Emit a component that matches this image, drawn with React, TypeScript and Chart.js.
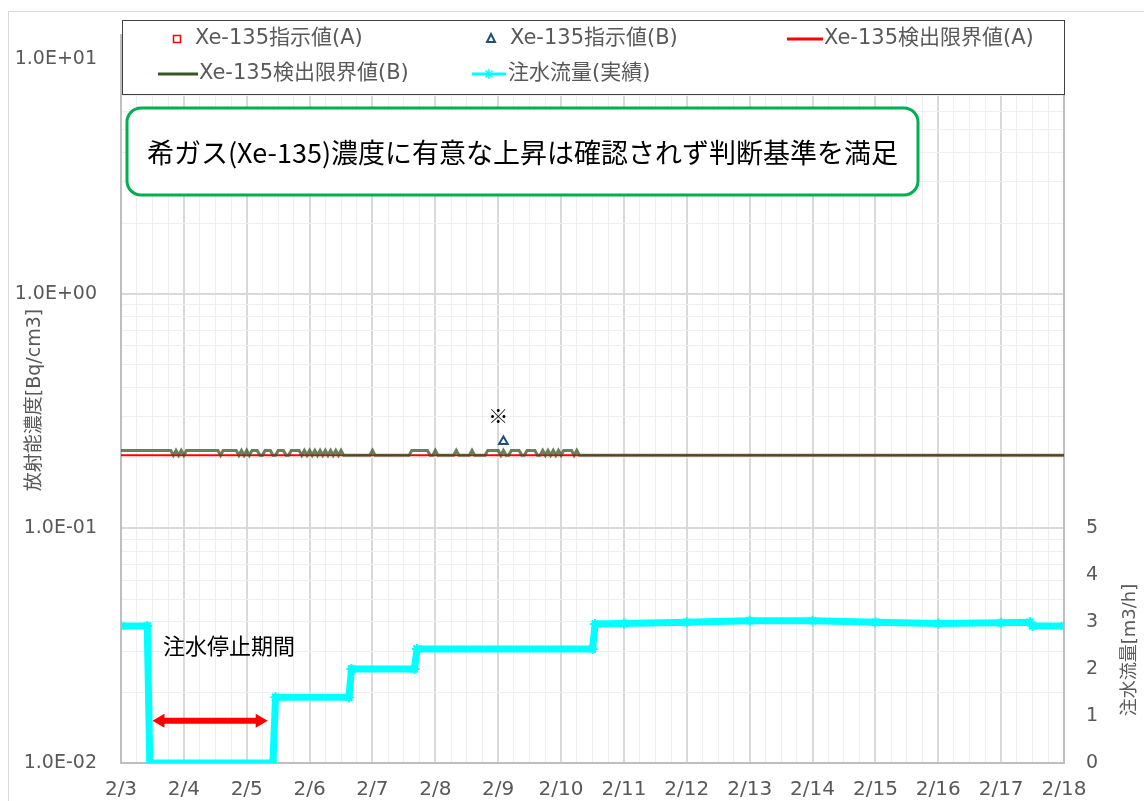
import React, { useEffect, useRef } from 'react';
import { Chart, registerables } from 'chart.js';

Chart.register(...registerables);

// ---- Data (x in hours from 2/3 00:00) ----
const dayLabels = ['2/3', '2/4', '2/5', '2/6', '2/7', '2/8', '2/9', '2/10', '2/11', '2/12', '2/13', '2/14', '2/15', '2/16', '2/17', '2/18'];
const rightTickLabels = ['0', '1', '2', '3', '4', '5'];

const H = 0.215;
const L = 0.205;

const limitA: [number, number][] = [[0, 0.205], [360, 0.205]];

const limitB: [number, number][] = [
  [0, H], [19, H], [20, L], [21, H], [22, L], [23, H], [24, L], [25, H], [37, H], [38, L], [39, H],
  [44, H], [45, L], [46, H], [47, L], [48, H], [49, L], [50, H], [52, H], [53, L], [54, L], [55, H],
  [57, H], [58, L], [59, L], [60, H], [62, H], [63, L], [64, L], [65, H], [68, H], [69, L], [70, H],
  [71, L], [72, H], [73, L], [74, H], [75, L], [76, H], [77, L], [78, H], [79, L], [80, H], [81, L],
  [82, H], [83, L], [84, H], [85, L], [95, L], [96, H], [97, L], [110, L], [111, H], [117, H],
  [118, L], [119, L], [120, H], [121, L], [127, L], [128, H], [129, L], [133, L], [134, H], [135, L],
  [139, L], [140, H], [144, H], [145, L], [146, H], [147, L], [148, L], [149, H], [152, H], [153, L],
  [154, L], [155, H], [158, H], [159, L], [160, L], [161, H], [162, L], [163, H], [164, L], [165, H],
  [166, L], [167, H], [168, L], [169, H], [172, H], [173, L], [174, H], [175, L], [360, L],
];

const indicatorA: [number, number][] = [];
const indicatorB: [number, number][] = [[146, 0.235]];

const flow: [number, number][] = [
  [0, 2.92], [10, 2.92], [11, 0], [58, 0], [59, 1.4], [87, 1.4], [88, 2.0], [112, 2.0], [113, 2.43],
  [180, 2.43], [181, 2.96], [192, 2.97], [216, 3.0], [240, 3.03], [264, 3.03], [288, 3.0],
  [312, 2.97], [336, 2.99], [347, 3.0], [348, 2.92], [360, 2.92],
];

const noteMark = { hour: 144, value: 0.3, text: '※' };
const stopLabel = { hour: 16, flow: 2.5, text: '注水停止期間' };
const stopArrow = { from: 12, to: 56, flow: 0.9 };
const boxText = '希ガス(Xe-135)濃度に有意な上昇は確認されず判断基準を満足';

const LATIN = '"DejaVu Sans", "Noto Sans CJK JP", sans-serif';
const CJK = '"Noto Sans CJK JP", sans-serif';
const GRAY_TXT = '#595959';

function fmtExp(v: number): string {
  const e = Math.round(Math.log10(v));
  const sign = e < 0 ? '-' : '+';
  const a = Math.abs(e);
  return '1.0E' + sign + (a < 10 ? '0' + a : String(a));
}
function isPow10(v: number): boolean {
  const l = Math.log10(v);
  return Math.abs(l - Math.round(l)) < 1e-9;
}

const toXY = (arr: [number, number][]) => arr.map(([x, y]) => ({ x, y }));

const overlayPlugin = {
  id: 'overlay',
  beforeDraw(chart: any) {
    const ctx = chart.ctx;
    ctx.save();
    ctx.fillStyle = '#ffffff';
    ctx.fillRect(0, 0, chart.width, chart.height);
    ctx.strokeStyle = '#d9d9d9';
    ctx.lineWidth = 1;
    ctx.strokeRect(8.5, 11.5, chart.width + 10, chart.height + 10);
    ctx.restore();
  },
  afterDraw(chart: any) {
    const ctx = chart.ctx;
    const xs = chart.scales.x;
    const ys = chart.scales.y;
    const y1 = chart.scales.y1;
    ctx.save();

    // Axis titles
    ctx.fillStyle = GRAY_TXT;
    ctx.font = '19px ' + LATIN;
    ctx.textAlign = 'center';
    ctx.textBaseline = 'middle';
    ctx.save();
    ctx.translate(35, 400);
    ctx.rotate(-Math.PI / 2);
    ctx.fillText('放射能濃度[Bq/cm3]', 0, 0);
    ctx.restore();
    ctx.save();
    ctx.font = '18px ' + LATIN;
    ctx.translate(1130, 650);
    ctx.rotate(-Math.PI / 2);
    ctx.fillText('注水流量[m3/h]', 0, 0);
    ctx.restore();

    // Legend box
    ctx.fillStyle = '#ffffff';
    ctx.fillRect(122, 20, 942, 75);
    ctx.strokeStyle = '#404040';
    ctx.lineWidth = 1;
    ctx.strokeRect(122.5, 20.5, 942, 74);
    ctx.font = '21px ' + LATIN;
    ctx.fillStyle = GRAY_TXT;
    ctx.textAlign = 'left';
    ctx.textBaseline = 'middle';
    // row 1
    ctx.strokeStyle = '#ff0000';
    ctx.lineWidth = 1.5;
    ctx.strokeRect(173.5, 35.5, 7, 7);
    ctx.fillText('Xe-135指示値(A)', 195, 39);
    ctx.strokeStyle = '#1f4e79';
    ctx.lineWidth = 2;
    ctx.beginPath();
    ctx.moveTo(491, 34);
    ctx.lineTo(495, 42);
    ctx.lineTo(487, 42);
    ctx.closePath();
    ctx.stroke();
    ctx.fillText('Xe-135指示値(B)', 510, 39);
    ctx.strokeStyle = '#ff0000';
    ctx.lineWidth = 3;
    ctx.beginPath();
    ctx.moveTo(787, 39);
    ctx.lineTo(823, 39);
    ctx.stroke();
    ctx.fillText('Xe-135検出限界値(A)', 824, 39);
    // row 2
    ctx.strokeStyle = '#375623';
    ctx.beginPath();
    ctx.moveTo(158, 74);
    ctx.lineTo(198, 74);
    ctx.stroke();
    ctx.fillText('Xe-135検出限界値(B)', 199, 74);
    ctx.strokeStyle = '#00ffff';
    ctx.beginPath();
    ctx.moveTo(472, 74);
    ctx.lineTo(506, 74);
    ctx.stroke();
    ctx.lineWidth = 1.5;
    ctx.beginPath();
    for (let i = 0; i < 4; i++) {
      const a = (i * Math.PI) / 4;
      ctx.moveTo(489 - 5 * Math.cos(a), 74 - 5 * Math.sin(a));
      ctx.lineTo(489 + 5 * Math.cos(a), 74 + 5 * Math.sin(a));
    }
    ctx.stroke();
    ctx.fillText('注水流量(実績)', 508, 74);

    // Green annotation box
    const bx = 127, by = 108, bw = 791, bh = 87, r = 14;
    ctx.beginPath();
    ctx.moveTo(bx + r, by);
    ctx.lineTo(bx + bw - r, by);
    ctx.arcTo(bx + bw, by, bx + bw, by + r, r);
    ctx.lineTo(bx + bw, by + bh - r);
    ctx.arcTo(bx + bw, by + bh, bx + bw - r, by + bh, r);
    ctx.lineTo(bx + r, by + bh);
    ctx.arcTo(bx, by + bh, bx, by + bh - r, r);
    ctx.lineTo(bx, by + r);
    ctx.arcTo(bx, by, bx + r, by, r);
    ctx.closePath();
    ctx.fillStyle = '#ffffff';
    ctx.fill();
    ctx.strokeStyle = '#00b050';
    ctx.lineWidth = 3;
    ctx.stroke();
    ctx.fillStyle = '#000000';
    ctx.font = '27px ' + CJK;
    ctx.textAlign = 'center';
    ctx.fillText(boxText, bx + bw / 2, by + bh / 2 + 1);

    // ※ mark
    ctx.font = '20px ' + CJK;
    ctx.fillStyle = '#000000';
    ctx.fillText(noteMark.text, xs.getPixelForValue(noteMark.hour), ys.getPixelForValue(noteMark.value));

    // 注水停止期間
    ctx.font = '22px ' + CJK;
    ctx.textAlign = 'left';
    ctx.fillText(stopLabel.text, xs.getPixelForValue(stopLabel.hour), y1.getPixelForValue(stopLabel.flow));

    // double arrow
    const ax1 = xs.getPixelForValue(stopArrow.from);
    const ax2 = xs.getPixelForValue(stopArrow.to);
    const ay = y1.getPixelForValue(stopArrow.flow);
    const head = 12, half = 7, shaft = 3;
    ctx.fillStyle = '#ff0000';
    ctx.beginPath();
    ctx.moveTo(ax1, ay);
    ctx.lineTo(ax1 + head, ay - half);
    ctx.lineTo(ax1 + head, ay - shaft);
    ctx.lineTo(ax2 - head, ay - shaft);
    ctx.lineTo(ax2 - head, ay - half);
    ctx.lineTo(ax2, ay);
    ctx.lineTo(ax2 - head, ay + half);
    ctx.lineTo(ax2 - head, ay + shaft);
    ctx.lineTo(ax1 + head, ay + shaft);
    ctx.lineTo(ax1 + head, ay + half);
    ctx.closePath();
    ctx.fill();

    ctx.restore();
  },
};

export default function App() {
  const ref = useRef<HTMLCanvasElement | null>(null);

  useEffect(() => {
    document.body.style.margin = '0';
    const canvas = ref.current;
    if (!canvas) return;
    const chart = new Chart(canvas, {
      type: 'line',
      data: {
        datasets: [
          {
            label: 'Xe-135指示値(A)',
            data: toXY(indicatorA),
            showLine: false,
            pointStyle: 'rect',
            pointRadius: 4,
            borderColor: '#ff0000',
            backgroundColor: '#ffffff',
            yAxisID: 'y',
            order: 0,
          },
          {
            label: 'Xe-135指示値(B)',
            data: toXY(indicatorB),
            showLine: false,
            pointStyle: 'triangle',
            pointRadius: 5,
            borderWidth: 2,
            borderColor: '#1f4e79',
            backgroundColor: '#ffffff',
            yAxisID: 'y',
            order: 1,
          },
          {
            label: 'Xe-135検出限界値(A)',
            data: toXY(limitA),
            borderColor: '#ff0000',
            borderWidth: 2,
            pointRadius: 0,
            tension: 0,
            yAxisID: 'y',
            order: 5,
          },
          {
            label: 'Xe-135検出限界値(B)',
            data: toXY(limitB),
            borderColor: 'rgba(55,86,35,0.75)',
            borderWidth: 3,
            pointRadius: 0,
            tension: 0,
            yAxisID: 'y',
            order: 4,
          },
          {
            label: '注水流量(実績)',
            data: toXY(flow),
            borderColor: '#00ffff',
            borderWidth: 7,
            pointStyle: 'star',
            pointRadius: 5,
            pointBorderWidth: 2,
            pointBorderColor: '#00ffff',
            tension: 0,
            yAxisID: 'y1',
            order: 6,
          },
        ],
      },
      options: {
        animation: false,
        responsive: false,
        devicePixelRatio: 1,
        layout: { padding: { top: 6, left: 0, right: 0, bottom: 0 } },
        plugins: { legend: { display: false }, tooltip: { enabled: false } },
        scales: {
          x: {
            type: 'linear',
            min: 0,
            max: 360,
            afterBuildTicks: (s: any) => {
              const t = [];
              for (let h = 0; h <= 360; h += 6) t.push({ value: h });
              s.ticks = t;
            },
            afterFit: (s: any) => { s.height = 38; },
            grid: {
              drawTicks: false,
              color: (c: any) => (c.tick && c.tick.value % 24 === 0 ? '#d9d9d9' : '#efefef'),
              lineWidth: (c: any) => (c.tick && c.tick.value % 24 === 0 ? 2 : 1),
            },
            border: { display: true, color: '#bfbfbf', width: 2 },
            ticks: {
              autoSkip: false,
              maxRotation: 0,
              minRotation: 0,
              padding: 15,
              color: GRAY_TXT,
              font: { family: LATIN, size: 20 },
              callback: (v: any) => (v % 24 === 0 ? dayLabels[v / 24] : ''),
            },
          },
          y: {
            type: 'logarithmic',
            position: 'left',
            min: 0.01,
            max: 12.65,
            afterBuildTicks: (s: any) => {
              s.ticks = s.ticks.filter((t: any) => {
                const m = t.value / Math.pow(10, Math.floor(Math.log10(t.value) + 1e-9));
                return Math.abs(m - 1.5) > 1e-6;
              });
            },
            afterFit: (s: any) => { s.width = 121; },
            grid: {
              drawTicks: false,
              color: (c: any) => (c.tick && isPow10(c.tick.value) ? '#d9d9d9' : '#efefef'),
              lineWidth: (c: any) => (c.tick && isPow10(c.tick.value) ? 2 : 1),
            },
            border: { display: true, color: '#bfbfbf', width: 2 },
            ticks: {
              autoSkip: false,
              padding: 24,
              color: GRAY_TXT,
              font: { family: LATIN, size: 19 },
              callback: (v: any) => (isPow10(v) && v <= 10 ? fmtExp(v) : ''),
            },
          },
          y1: {
            type: 'linear',
            position: 'right',
            min: 0,
            max: 15.5,
            afterBuildTicks: (s: any) => {
              s.ticks = rightTickLabels.map((_, i) => ({ value: i }));
            },
            afterFit: (s: any) => { s.width = 80; },
            grid: { display: false, drawTicks: false },
            border: { display: true, color: '#bfbfbf', width: 2 },
            ticks: {
              autoSkip: false,
              padding: 22,
              color: GRAY_TXT,
              font: { family: LATIN, size: 19 },
              callback: (v: any) => rightTickLabels[v] ?? '',
            },
          },
        },
      },
      plugins: [overlayPlugin],
    } as any);
    return () => chart.destroy();
  }, []);

  return (
    <div style={{ width: 1144, height: 801, position: 'relative' }}>
      <canvas ref={ref} width={1144} height={801} style={{ display: 'block' }} />
    </div>
  );
}
